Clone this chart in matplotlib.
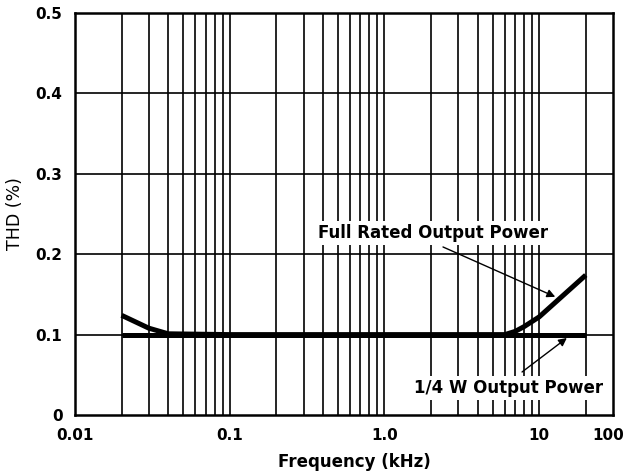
import matplotlib
matplotlib.use("Agg")
import matplotlib.pyplot as plt
from matplotlib.ticker import FixedLocator, FixedFormatter, NullFormatter

# Data (frequency in kHz, THD in %)
full_freq = [0.02, 0.03, 0.04, 0.1, 1.0, 6.0, 7.0, 8.0, 10.0, 20.0]
full_thd = [0.124, 0.108, 0.101, 0.100, 0.100, 0.100, 0.104, 0.110, 0.122, 0.174]
quarter_freq = [0.02, 0.1, 1.0, 10.0, 20.0]
quarter_thd = [0.100, 0.100, 0.100, 0.100, 0.100]

x_tick_vals = [0.01, 0.1, 1.0, 10.0, 28.0]
x_tick_labels = ["0.01", "0.1", "1.0", "10", "100"]
y_tick_vals = [0, 0.1, 0.2, 0.3, 0.4, 0.5]
y_tick_labels = ["0", "0.1", "0.2", "0.3", "0.4", "0.5"]

fig = plt.figure(figsize=(6.26, 4.75), dpi=100)
L, R, T, B = 75 / 626, 613 / 626, 1 - 13 / 475, 1 - 415 / 475
ax = fig.add_axes([L, B, R - L, T - B])

ax.set_xscale("log")
ax.set_xlim(0.01, 30)
ax.set_ylim(0, 0.5)

# grid lines
minor = [m * 10.0 ** e for e in range(-2, 2) for m in range(1, 10)]
minor = [v for v in minor if 0.01 < v < 30]
for v in minor:
    ax.axvline(v, color="black", lw=1.2, zorder=1)
for v in y_tick_vals[1:-1]:
    ax.axhline(v, color="black", lw=1.2, zorder=1)

ax.plot(quarter_freq, quarter_thd, color="black", lw=3.6, solid_capstyle="butt", zorder=3)
ax.plot(full_freq, full_thd, color="black", lw=3.6, solid_capstyle="butt", zorder=3)

ax.xaxis.set_major_locator(FixedLocator(x_tick_vals))
ax.xaxis.set_major_formatter(FixedFormatter(x_tick_labels))
ax.xaxis.set_minor_formatter(NullFormatter())
ax.yaxis.set_major_locator(FixedLocator(y_tick_vals))
ax.yaxis.set_major_formatter(FixedFormatter(y_tick_labels))
ax.tick_params(which="both", length=0, labelsize=11, pad=9)
for lab in ax.get_xticklabels() + ax.get_yticklabels():
    lab.set_fontweight("bold")

for s in ax.spines.values():
    s.set_linewidth(1.8)

ax.set_xlabel("Frequency (kHz)", fontsize=12, fontweight="bold")
ax.xaxis.set_label_coords(0.519, -0.095)
ax.set_ylabel("THD (%)", fontsize=12.5)
ax.yaxis.set_label_coords(-0.095, 0.5)

bbox = dict(facecolor="white", edgecolor="none", pad=2)
arrow = dict(arrowstyle="-|>", color="black", lw=1, mutation_scale=12,
             shrinkA=0, shrinkB=0)

ax.text(2.06, 0.226, "Full Rated Output Power", fontsize=12, fontweight="bold",
        ha="center", va="center", bbox=bbox, zorder=4)
ax.annotate("", xy=(12.7, 0.147), xytext=(2.39, 0.209), arrowprops=arrow, zorder=4)

ax.text(6.3, 0.0336, "1/4 W Output Power", fontsize=12, fontweight="bold",
        ha="center", va="center", bbox=bbox, zorder=4)
ax.annotate("", xy=(15.1, 0.0958), xytext=(7.75, 0.0535), arrowprops=arrow, zorder=4)

fig.savefig("out.png", dpi=100)
